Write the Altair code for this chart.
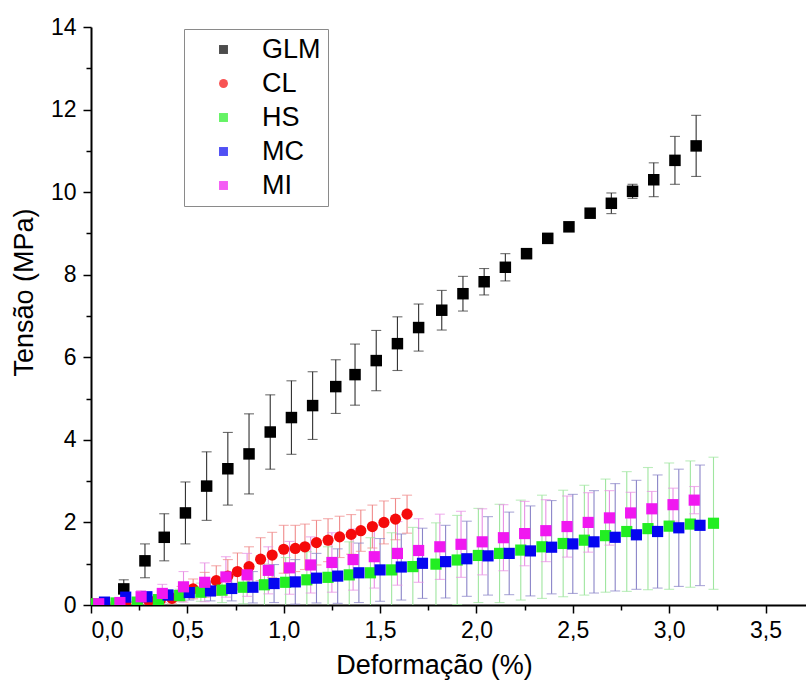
import altair as alt
import pandas as pd

# Stress-strain curves (mean ± standard deviation) for five materials
series = ["GLM", "CL", "HS", "MC", "MI"]
colors = ["#000000", "#f50a0a", "#22ee22", "#0505f0", "#f018f0"]
bar_colors = ["#303030", "#f08a8a", "#9fe69f", "#8a84c8", "#e890e4"]
shapes = ["square", "circle", "square", "square", "square"]
marker_sizes = [132, 125, 125, 125, 125]

glm_x = [0.17, 0.28, 0.38, 0.49, 0.60, 0.71, 0.82, 0.93, 1.04, 1.15, 1.27, 1.37, 1.48, 1.59,
         1.70, 1.82, 1.93, 2.04, 2.15, 2.26, 2.37, 2.48, 2.59, 2.70, 2.81, 2.92, 3.03, 3.14]
glm_y = [0.39, 1.07, 1.64, 2.23, 2.88, 3.30, 3.66, 4.19, 4.54, 4.83, 5.29, 5.58, 5.92, 6.33,
         6.72, 7.14, 7.54, 7.83, 8.18, 8.51, 8.88, 9.16, 9.49, 9.73, 10.02, 10.30, 10.77, 11.12]
glm_sd = [0.22, 0.41, 0.57, 0.75, 0.83, 0.88, 0.97, 0.90, 0.89, 0.82, 0.65, 0.74, 0.73, 0.65,
          0.57, 0.48, 0.42, 0.32, 0.33, 0.12, 0.12, 0.07, 0.08, 0.25, 0.17, 0.41, 0.58, 0.74]

cl_x = [0.01, 0.07, 0.13, 0.18, 0.24, 0.30, 0.36, 0.42, 0.47, 0.53, 0.59, 0.65, 0.71, 0.76, 0.82,
        0.88, 0.94, 1.00, 1.06, 1.11, 1.17, 1.23, 1.29, 1.35, 1.40, 1.46, 1.52, 1.58, 1.64]
cl_y = [0.03, 0.04, 0.04, 0.05, 0.07, 0.11, 0.13, 0.16, 0.27, 0.39, 0.49, 0.59, 0.70, 0.81, 0.93,
        1.11, 1.21, 1.35, 1.37, 1.41, 1.51, 1.57, 1.65, 1.71, 1.80, 1.90, 2.00, 2.08, 2.20]
cl_sd = [0.02, 0.03, 0.04, 0.05, 0.06, 0.08, 0.10, 0.13, 0.18, 0.24, 0.30, 0.36, 0.40, 0.45, 0.48,
         0.52, 0.55, 0.58, 0.56, 0.55, 0.54, 0.52, 0.50, 0.48, 0.50, 0.52, 0.52, 0.50, 0.46]

hs_x = [0.02, 0.13, 0.24, 0.35, 0.46, 0.57, 0.68, 0.79, 0.90, 1.01, 1.12, 1.23, 1.34, 1.45, 1.56,
        1.67, 1.79, 1.90, 2.01, 2.12, 2.23, 2.34, 2.45, 2.56, 2.67, 2.78, 2.89, 3.00, 3.11, 3.23]
hs_y = [0.03, 0.05, 0.07, 0.13, 0.23, 0.31, 0.36, 0.43, 0.49, 0.55, 0.61, 0.67, 0.73, 0.78, 0.85,
        0.93, 0.99, 1.09, 1.20, 1.25, 1.33, 1.41, 1.49, 1.57, 1.68, 1.78, 1.85, 1.91, 1.96, 1.98]
hs_sd = [0.02, 0.04, 0.06, 0.10, 0.15, 0.22, 0.30, 0.40, 0.50, 0.60, 0.68, 0.74, 0.80, 0.85, 0.90,
         0.95, 1.00, 1.08, 1.14, 1.19, 1.21, 1.25, 1.29, 1.33, 1.37, 1.45, 1.48, 1.53, 1.53, 1.60]

mc_x = [0.07, 0.18, 0.29, 0.40, 0.51, 0.62, 0.73, 0.84, 0.95, 1.06, 1.17, 1.28, 1.39, 1.50, 1.61,
        1.72, 1.84, 1.95, 2.06, 2.17, 2.28, 2.39, 2.50, 2.61, 2.72, 2.83, 2.94, 3.05, 3.16]
mc_y = [0.07, 0.19, 0.20, 0.24, 0.30, 0.34, 0.40, 0.43, 0.52, 0.56, 0.65, 0.70, 0.78, 0.85, 0.92,
        1.01, 1.05, 1.12, 1.19, 1.25, 1.31, 1.40, 1.48, 1.53, 1.64, 1.70, 1.78, 1.87, 1.93]
mc_sd = [0.03, 0.08, 0.10, 0.13, 0.18, 0.24, 0.30, 0.38, 0.46, 0.54, 0.60, 0.66, 0.72, 0.76, 0.80,
         0.85, 0.88, 0.91, 0.95, 1.00, 1.09, 1.13, 1.20, 1.24, 1.30, 1.32, 1.37, 1.42, 1.46]

mi_x = [0.04, 0.15, 0.26, 0.37, 0.48, 0.59, 0.70, 0.81, 0.92, 1.03, 1.14, 1.25, 1.36, 1.47, 1.59,
        1.70, 1.81, 1.92, 2.03, 2.14, 2.25, 2.36, 2.47, 2.58, 2.69, 2.80, 2.91, 3.02, 3.13]
mi_y = [0.03, 0.06, 0.20, 0.28, 0.44, 0.55, 0.68, 0.73, 0.84, 0.90, 0.97, 1.03, 1.10, 1.17, 1.25,
        1.32, 1.41, 1.47, 1.53, 1.63, 1.73, 1.80, 1.90, 2.00, 2.11, 2.23, 2.33, 2.43, 2.54]
mi_sd = [0.03, 0.06, 0.15, 0.22, 0.37, 0.47, 0.49, 0.52, 0.57, 0.64, 0.68, 0.72, 0.74, 0.76, 0.77,
         0.77, 0.79, 0.80, 0.80, 0.80, 0.78, 0.75, 0.74, 0.72, 0.66, 0.50, 0.42, 0.40, 0.33]

x_ticks = [0.0, 0.25, 0.5, 0.75, 1.0, 1.25, 1.5, 1.75, 2.0, 2.25, 2.5, 2.75, 3.0, 3.25, 3.5]
y_ticks = list(range(0, 15))

groups = [
    (glm_x, glm_y, glm_sd),
    (cl_x, cl_y, cl_sd),
    (hs_x, hs_y, hs_sd),
    (mc_x, mc_y, mc_sd),
    (mi_x, mi_y, mi_sd),
]

rows = []
for name, bcol, msize, (xs, ys, sds) in zip(series, bar_colors, marker_sizes, groups):
    for xv, yv, sv in zip(xs, ys, sds):
        rows.append({"serie": name, "x": xv, "y": yv,
                     "lo": max(yv - sv, 0.0), "hi": yv + sv,
                     "ecolor": bcol, "msize": msize})
df = pd.DataFrame(rows)

FONT = "Liberation Sans"

x_axis = alt.Axis(
    values=x_ticks,
    labelExpr="round(datum.value*100) % 50 === 0 ? replace(format(datum.value, '.1f'), '.', ',') : ''",
    tickSize={"condition": {"test": "round(datum.value*100) % 50 === 0", "value": 8}, "value": 5},
    title="Deformação (%)",
    titleX=343, titleY=68, titleAlign="center", titleBaseline="alphabetic",
    labelPadding=6, grid=False,
)
y_axis = alt.Axis(
    values=y_ticks,
    labelExpr="datum.value % 2 === 0 ? datum.label : ''",
    tickSize={"condition": {"test": "datum.value % 2 === 0", "value": 8}, "value": 5},
    title="Tensão (MPa)",
    titleX=-67, titleY=265, titleAngle=270, titleAlign="center", titleBaseline="middle",
    labelPadding=7, grid=False,
)

x_enc = alt.X("x:Q", scale=alt.Scale(domain=[0, 3.71], nice=False, zero=False), axis=x_axis)
y_scale = alt.Scale(domain=[0, 14], nice=False)

base = alt.Chart(df)

# vertical error bars with caps
bars = base.mark_rule(strokeWidth=1.1, clip=True).encode(
    x=x_enc,
    y=alt.Y("lo:Q", scale=y_scale, axis=y_axis),
    y2="hi:Q",
    color=alt.Color("ecolor:N", scale=None),
)
caps_hi = base.mark_tick(orient="horizontal", size=10, thickness=1.1, clip=True).encode(
    x=x_enc,
    y=alt.Y("hi:Q", scale=y_scale, axis=y_axis),
    color=alt.Color("ecolor:N", scale=None),
)
caps_lo = base.transform_filter("datum.lo > 0").mark_tick(
    orient="horizontal", size=10, thickness=1.1, clip=True
).encode(
    x=x_enc,
    y=alt.Y("lo:Q", scale=y_scale, axis=y_axis),
    color=alt.Color("ecolor:N", scale=None),
)

legend_cfg = alt.Legend(
    title=None, orient="none", legendX=93, legendY=2,
    strokeColor="#8a8a8a", padding=7, symbolOffset=19, symbolSize=80,
    labelFontSize=27, labelFont=FONT, labelOffset=25, rowPadding=6,
    symbolStrokeWidth=0, symbolOpacity=1, labelColor="#000000",
)

points = base.mark_point(filled=True, opacity=1, clip=True).encode(
    x=x_enc,
    y=alt.Y("y:Q", scale=y_scale, axis=y_axis),
    color=alt.Color("serie:N", scale=alt.Scale(domain=series, range=colors), legend=legend_cfg),
    shape=alt.Shape("serie:N", scale=alt.Scale(domain=series, range=shapes), legend=legend_cfg),
    size=alt.Size("msize:Q", scale=None),
)

chart = alt.layer(bars, caps_hi, caps_lo, points).properties(
    width=715, height=578,
    padding={"left": 91, "top": 27, "right": 0, "bottom": 81},
    autosize=alt.AutoSizeParams(type="none"),
    background="#ffffff",
).configure_view(stroke=None).configure_axis(
    domainColor="#000000", domainWidth=2, tickColor="#000000", tickWidth=1.5,
    labelFont=FONT, labelFontSize=23, labelColor="#000000",
    titleFont=FONT, titleFontSize=27, titleFontWeight="normal", titleColor="#000000",
)

chart.save("out.html", embed_options={"renderer": "svg", "actions": False})
